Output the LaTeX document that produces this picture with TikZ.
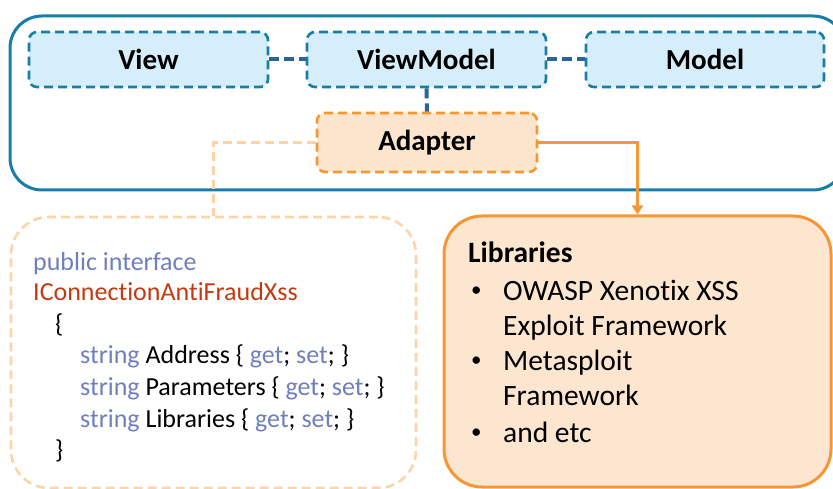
\documentclass[tikz,border=0pt]{standalone}
\usepackage{fontspec}
\setmainfont[Ligatures=NoCommon]{Carlito}
\usetikzlibrary{arrows.meta}

\definecolor{mvvmblue}{RGB}{24,126,168}
\definecolor{mvvmfill}{RGB}{213,238,249}
\definecolor{linkblue}{RGB}{43,100,150}
\definecolor{adorange}{RGB}{247,150,52}
\definecolor{adfill}{RGB}{251,229,205}
\definecolor{peach}{RGB}{253,212,168}
\definecolor{libfill}{RGB}{252,230,207}
\definecolor{kwblue}{RGB}{111,127,190}
\definecolor{typered}{RGB}{196,58,16}

\tikzset{
  layerbox/.style={draw=mvvmblue, fill=mvvmfill, line width=2.6pt,
    dash pattern=on 9pt off 5pt, rounded corners=8pt, inner sep=0pt,
    minimum width=239pt, minimum height=55pt,
    font=\fontsize{29}{35}\selectfont\bfseries},
  adapterbox/.style={layerbox, draw=adorange, fill=adfill,
    minimum width=220pt, minimum height=59pt},
  link/.style={draw=linkblue, line width=4pt, dash pattern=on 10pt off 5pt},
  codeline/.style={anchor=base west, inner sep=0pt,
    font=\fontsize{26}{31}\selectfont},
  libline/.style={anchor=base west, inner sep=0pt,
    font=\fontsize{29.5}{35}\selectfont},
  bulletmark/.style={anchor=base west, inner sep=0pt,
    font=\fontsize{21}{25}\selectfont},
}

\begin{document}
\begin{tikzpicture}[x=1pt, y=-1pt]
  \useasboundingbox (0,0) rectangle (833,489);
  \clip (0,0) rectangle (833,489);

  % application container
  \node[draw=mvvmblue, line width=3pt, rounded corners=32pt,
        minimum width=835pt, minimum height=174pt, inner sep=0pt]
        (app) at (427.5,103) {};

  % MVVM layers
  \node[layerbox] (view)  at (148.5,59.5) {View};
  \node[layerbox] (vm)    at (426.5,59.5) {ViewModel};
  \node[layerbox, minimum width=238pt] (model) at (705,59.5) {Model};
  \node[adapterbox] (adapter) at (427,142.5) {Adapter};

  \draw[link] (view.east) -- (vm.west);
  \draw[link] (vm.east) -- (model.west);
  \draw[link] (vm.south) -- (adapter.north);

  % interface box
  \node[draw=peach, line width=2.6pt, dash pattern=on 9pt off 5pt,
        rounded corners=38pt, minimum width=405pt, minimum height=271pt,
        inner sep=0pt] (code) at (213.5,352.5) {};

  % libraries box
  \node[draw=adorange, fill=libfill, line width=3pt, rounded corners=38pt,
        minimum width=387pt, minimum height=271pt, inner sep=0pt]
        (libs) at (637.5,351.5) {};

  \draw[peach, line width=2.6pt, dash pattern=on 9pt off 5pt]
    (adapter.west) -| (code.north);
  \draw[adorange, line width=2.6pt, -{Triangle[width=11pt,length=9pt]}]
    (adapter.east) -| (libs.north);

  % interface source
  \node[codeline, text=kwblue]  (c1) at (33,270) {public interface};
  \node[codeline, text=typered] (c2) at (33,301) {IConnectionAntiFraudXss};
  \node[codeline] (c3) at (55,332) {\{};
  \node[codeline] (c4) at (80,363)
    {\textcolor{kwblue}{string} Address \{ \textcolor{kwblue}{get}; \textcolor{kwblue}{set}; \}};
  \node[codeline] (c5) at (80,395)
    {\textcolor{kwblue}{string} Parameters \{ \textcolor{kwblue}{get}; \textcolor{kwblue}{set}; \}};
  \node[codeline] (c6) at (80,427)
    {\textcolor{kwblue}{string} Libraries \{ \textcolor{kwblue}{get}; \textcolor{kwblue}{set}; \}};
  \node[codeline] (c7) at (55,458) {\}};

  % libraries list
  \node[libline, font=\fontsize{29.5}{35}\selectfont\bfseries] (lt) at (468,262) {Libraries};
  \node[bulletmark] (b1) at (471,296) {•};
  \node[libline] (l1) at (503,300) {OWASP Xenotix XSS};
  \node[libline] (l2) at (503,335) {Exploit Framework};
  \node[bulletmark] (b2) at (471,366) {•};
  \node[libline] (l3) at (503,370) {Metasploit};
  \node[libline] (l4) at (503,405) {Framework};
  \node[bulletmark] (b3) at (471,438) {•};
  \node[libline] (l5) at (503,442) {and etc};
\end{tikzpicture}
\end{document}
